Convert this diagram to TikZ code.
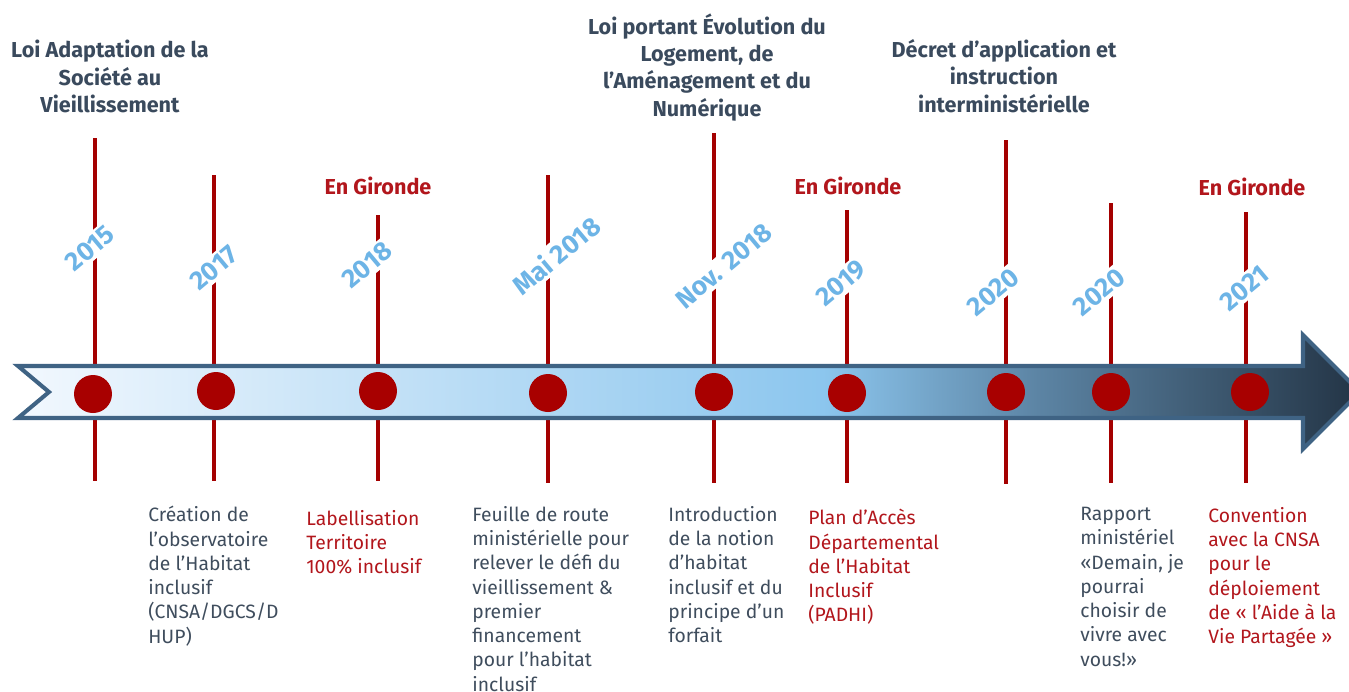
\documentclass[tikz,border=0pt]{standalone}
\usepackage{fontspec}
\setmainfont{Fira Sans}
\usetikzlibrary{positioning}
\definecolor{tickred}{HTML}{A40000}
\definecolor{dotred}{HTML}{A80000}
\definecolor{yearblue}{HTML}{6DB4E6}
\definecolor{titlegray}{HTML}{3A4A5D}
\definecolor{notegray}{HTML}{3F4D5D}
\definecolor{notered}{HTML}{B2161C}
\definecolor{arrowedge}{HTML}{3F6384}
\definecolor{shA}{HTML}{F2F8FE}
\definecolor{shB}{HTML}{8CC6EE}
\definecolor{shC}{HTML}{5C84A4}
\definecolor{shD}{HTML}{233445}
\pgfdeclarehorizontalshading{timeshade}{100bp}{color(0bp)=(shA); color(25bp)=(shA); color(55bp)=(shB); color(63bp)=(shC); color(75bp)=(shD); color(100bp)=(shD)}

\begin{document}
\begin{tikzpicture}[x=0.02cm,y=-0.02cm,
tick/.style={draw=tickred, line width=2.3pt},
dot/.style={circle, fill=dotred, minimum size=0.76cm, inner sep=0pt},
yearlbl/.style={fill=white, text=yearblue, rotate=40, inner sep=1.5pt, font=\fontsize{15}{15}\selectfont\bfseries},
title/.style={anchor=north, align=center, inner sep=0pt, text=titlegray, font=\fontsize{12.3}{15.6}\selectfont\bfseries, execute at begin node=\rule{0pt}{12pt}},
gironde/.style={text=notered, font=\fontsize{12.3}{15.3}\selectfont\bfseries},
note/.style={anchor=north west, align=left, inner sep=0pt, text=notegray, font=\fontsize{11}{13.8}\selectfont, execute at begin node=\rule{0pt}{11pt}},
notered/.style={note, text=notered}]
\useasboundingbox (0,0) rectangle (1349,691);
\coordinate (t15) at (95,138);   \coordinate (b15) at (95,481);
\coordinate (t17) at (214,175);  \coordinate (b17) at (214,481);
\coordinate (t18) at (378,215);  \coordinate (b18) at (378,481);
\coordinate (tmai) at (548,175); \coordinate (bmai) at (548,483);
\coordinate (tnov) at (714,133); \coordinate (bnov) at (714,483);
\coordinate (t19) at (847,210);  \coordinate (b19) at (847,483);
\coordinate (t20a) at (1006,140); \coordinate (b20a) at (1006,484);
\coordinate (t20b) at (1111,203); \coordinate (b20b) at (1111,483);
\coordinate (t21) at (1246,212); \coordinate (b21) at (1246,483);
\draw[tick] (t15)--(b15);
\draw[tick] (t17)--(b17);
\draw[tick] (t18)--(b18);
\draw[tick] (tmai)--(bmai);
\draw[tick] (tnov)--(bnov);
\draw[tick] (t19)--(b19);
\draw[tick] (t20a)--(b20a);
\draw[tick] (t20b)--(b20b);
\draw[tick] (t21)--(b21);
\node[yearlbl] (y15) at (90,248) {2015};
\node[yearlbl] (y17) at (214,268) {2017};
\node[yearlbl] (y18) at (367,265) {2018};
\node[yearlbl] (ymai) at (556,255) {Mai 2018};
\node[yearlbl] (ynov) at (724,266) {Nov. 2018};
\node[yearlbl] (y19) at (841,283) {2019};
\node[yearlbl] (y20a) at (993,292) {2020};
\node[yearlbl] (y20b) at (1099,292) {2020};
\node[yearlbl] (y21) at (1244,288) {2021};
\draw[arrowedge, line width=2.3pt, shading=timeshade]
  (18,366) -- (1303,366) -- (1303,335) -- (1360,392) -- (1303,449) -- (1303,418)
  -- (18,418) -- (49,392) -- cycle;
\node[dot] (d15) at (93,394) {};
\node[dot] (d17) at (216,391) {};
\node[dot] (d18) at (378,391) {};
\node[dot] (dmai) at (548,393) {};
\node[dot] (dnov) at (714,392) {};
\node[dot] (d19) at (847,393) {};
\node[dot] (d20a) at (1006,392) {};
\node[dot] (d20b) at (1111,392) {};
\node[dot] (d21) at (1250,392) {};
\node[title] (loiasv) at (110,40) {Loi Adaptation de la\\Société au\\Vieillissement};
\node[title] (loielan) at (707,13) {Loi portant Évolution du\\Logement, de\\l’Aménagement et du\\Numérique};
\node[title] (decret) at (1004,39) {Décret d’application et\\instruction\\interministérielle};
\node[gironde] (gir18) at (378,186) {En Gironde};
\node[gironde] (gir19) at (848,186) {En Gironde};
\node[gironde] (gir21) at (1252,187) {En Gironde};
\node[note] (n17) at (148,506) {Création de\\l’observatoire\\de l’Habitat\\inclusif\\(CNSA/DGCS/D\\HUP)};
\node[notered] (n18) at (306,510) {Labellisation\\Territoire\\100\% inclusif};
\node[note] (nmai) at (472,506) {Feuille de route\\ministérielle pour\\relever le défi du\\vieillissement \&\\premier\\financement\\pour l’habitat\\inclusif};
\node[note] (nnov) at (668,506) {Introduction\\de la notion\\d’habitat\\inclusif et du\\principe d’un\\forfait};
\node[notered] (n19) at (808,509) {Plan d’Accès\\Départemental\\de l’Habitat\\Inclusif\\(PADHI)};
\node[note] (n20b) at (1080,507) {Rapport\\ministériel\\«Demain, je\\pourrai\\choisir de\\vivre avec\\vous!»};
\node[notered] (n21) at (1208,507) {Convention\\avec la CNSA\\pour le\\déploiement\\de « l’Aide à la\\Vie Partagée »};
\end{tikzpicture}
\end{document}
